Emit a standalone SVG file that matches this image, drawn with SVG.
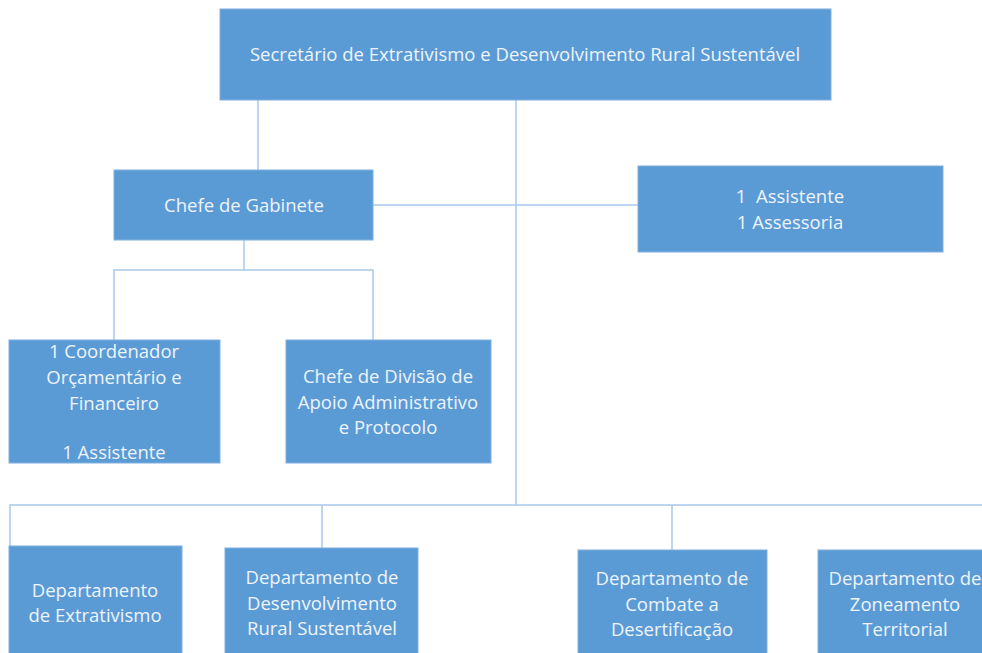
<svg xmlns="http://www.w3.org/2000/svg" width="982" height="653" viewBox="0 0 982 653">
<style>
.box{fill:#5b9bd5;stroke:#7eb0df;stroke-width:1}
.t{font-family:"Open Sans","Liberation Sans",Arial,sans-serif;font-size:18.5px;fill:#eef4fb;text-anchor:middle;white-space:pre}
.c{stroke:#a8c8ea;stroke-width:1.5;fill:none}
</style>
<rect width="982" height="653" fill="#ffffff"/>
<g id="connectors">
<path class="c" d="M258 100V170"/>
<path class="c" d="M516 100V505"/>
<path class="c" d="M373 205H638"/>
<path class="c" d="M244 240V270"/>
<path class="c" d="M114 340V270H373V340"/>
<path class="c" d="M10 547V505H982"/>
<path class="c" d="M322 505V549"/>
<path class="c" d="M672 505V551"/>
</g>
<g id="secretario">
<rect class="box" x="220" y="9" width="611" height="91"/>
<text class="t" x="525" y="61">Secretário de Extrativismo e Desenvolvimento Rural Sustentável</text>
</g>
<g id="chefe-gabinete">
<rect class="box" x="114" y="170" width="259" height="70"/>
<text class="t" x="244" y="212">Chefe de Gabinete</text>
</g>
<g id="assistente-assessoria">
<rect class="box" x="638" y="166" width="305" height="86"/>
<text class="t" x="790" y="203" xml:space="preserve">1  Assistente</text>
<text class="t" x="790" y="229">1 Assessoria</text>
</g>
<g id="coordenador">
<rect class="box" x="9" y="340" width="211" height="123"/>
<text class="t" x="114" y="358">1 Coordenador</text>
<text class="t" x="114" y="384">Orçamentário e</text>
<text class="t" x="114" y="410">Financeiro</text>
<text class="t" x="114" y="459">1 Assistente</text>
</g>
<g id="chefe-divisao">
<rect class="box" x="286" y="340" width="205" height="123"/>
<text class="t" x="388" y="383">Chefe de Divisão de</text>
<text class="t" x="388" y="409">Apoio Administrativo</text>
<text class="t" x="388" y="434">e Protocolo</text>
</g>
<g id="dep-extrativismo">
<rect class="box" x="9" y="546" width="173" height="120"/>
<text class="t" x="95" y="597">Departamento</text>
<text class="t" x="95" y="622">de Extrativismo</text>
</g>
<g id="dep-desenvolvimento">
<rect class="box" x="225" y="548" width="193" height="120"/>
<text class="t" x="322" y="584">Departamento de</text>
<text class="t" x="322" y="610">Desenvolvimento</text>
<text class="t" x="322" y="635">Rural Sustentável</text>
</g>
<g id="dep-combate">
<rect class="box" x="578" y="550" width="189" height="120"/>
<text class="t" x="672" y="585">Departamento de</text>
<text class="t" x="672" y="611">Combate a</text>
<text class="t" x="672" y="636">Desertificação</text>
</g>
<g id="dep-zoneamento">
<rect class="box" x="818" y="550" width="180" height="120"/>
<text class="t" x="905" y="585">Departamento de</text>
<text class="t" x="905" y="611">Zoneamento</text>
<text class="t" x="905" y="636">Territorial</text>
</g>
</svg>
